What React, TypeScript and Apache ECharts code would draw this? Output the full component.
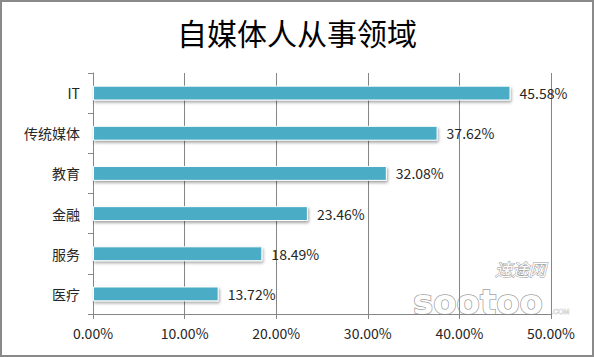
import React, { useEffect, useRef } from "react";
import * as echarts from "echarts";

const categories = ["IT", "传统媒体", "教育", "金融", "服务", "医疗"];
const values = [45.58, 37.62, 32.08, 23.46, 18.49, 13.72];
const titleText = "自媒体人从事领域";

const FONT = '"Noto Sans CJK SC", "Noto Sans", sans-serif';

export default function App() {
  const ref = useRef<HTMLDivElement>(null);
  useEffect(() => {
    document.body.style.margin = "0";
    const chart = echarts.init(ref.current!, null, { renderer: "svg" });
    chart.setOption({
      animation: false,
      backgroundColor: "#ffffff",
      title: {
        text: titleText,
        left: "center",
        top: 12,
        textStyle: { fontFamily: FONT, fontSize: 30, fontWeight: "normal", color: "#000" },
      },
      grid: { left: 93, right: 43, top: 73, bottom: 43, containLabel: false },
      xAxis: {
        type: "value",
        min: 0,
        max: 50,
        interval: 10,
        axisLine: { show: true, lineStyle: { color: "#868686", width: 1 } },
        axisTick: { show: true, length: 5, lineStyle: { color: "#868686" } },
        splitLine: { show: true, lineStyle: { color: "#868686", width: 1 } },
        axisLabel: {
          formatter: (v: number) => v.toFixed(2) + "%",
          fontFamily: FONT,
          fontSize: 14,
          color: "#262626",
          margin: 12,
        },
      },
      yAxis: {
        type: "category",
        data: categories,
        inverse: true,
        axisLine: { show: true, lineStyle: { color: "#868686", width: 1 } },
        axisTick: { show: true, length: 5, lineStyle: { color: "#868686" } },
        axisLabel: { fontFamily: FONT, fontSize: 14, color: "#262626", margin: 13 },
      },
      series: [
        {
          type: "bar",
          data: values,
          barWidth: "37%",
          itemStyle: {
            color: "#4bacc6",
            borderColor: "#ffffff",
            borderWidth: 1,
            shadowBlur: 3,
            shadowColor: "rgba(0,0,0,0.35)",
            shadowOffsetX: 1,
            shadowOffsetY: 2,
          },
          label: {
            show: true,
            position: "right",
            distance: 9,
            formatter: (p: any) => p.value.toFixed(2) + "%",
            fontFamily: FONT,
            fontSize: 14,
            color: "#262626",
          },
        },
      ],
      graphic: [
        {
          type: "rect",
          shape: { x: 1, y: 1, width: 592, height: 355 },
          style: { fill: "none", stroke: "#8a8a8a", lineWidth: 2 },
          silent: true,
        },
        {
          type: "text",
          x: 495,
          y: 260,
          style: {
            text: "速途网",
            font: 'italic 17px "Noto Sans CJK SC"',
            fill: "#ffffff",
            stroke: "#9a9a9a",
            lineWidth: 1,
          },
          silent: true,
        },
        {
          type: "text",
          x: 413,
          y: 319,
          style: {
            text: "sootoo",
            font: 'bold 34px "DejaVu Sans"',
            fill: "#ffffff",
            stroke: "#a0a0a0",
            lineWidth: 1.5,
            textVerticalAlign: "bottom",
          },
          silent: true,
        },
        {
          type: "text",
          x: 551,
          y: 308,
          style: {
            text: ".COM",
            font: "7px sans-serif",
            fill: "#ffffff",
            stroke: "#a0a0a0",
            lineWidth: 0.5,
          },
          silent: true,
        },
      ],
    });
    return () => chart.dispose();
  }, []);
  return (
    <div
      ref={ref}
      style={{ width: 594, height: 357, position: "absolute", left: 0, top: 0 }}
    />
  );
}
